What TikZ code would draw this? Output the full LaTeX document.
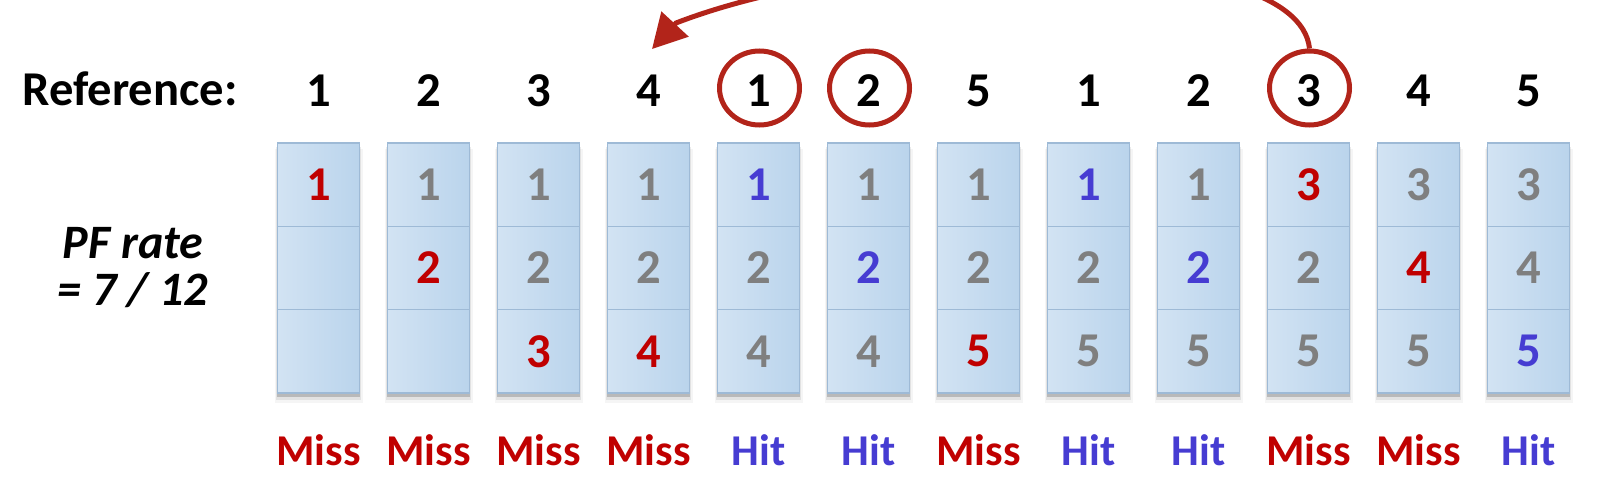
\documentclass[tikz,border=0pt]{standalone}
\usepackage{fontspec}
\setmainfont{Carlito}
\usetikzlibrary{shapes.geometric,arrows.meta}

\definecolor{missred}{RGB}{192,0,0}
\definecolor{hitblue}{RGB}{70,60,210}
\definecolor{oldgray}{RGB}{127,127,127}
\definecolor{markred}{RGB}{178,36,26}
\definecolor{cellborder}{RGB}{158,186,214}
\definecolor{cellA}{RGB}{210,227,243}
\definecolor{cellB}{RGB}{186,212,236}

\tikzset{
  bigtxt/.style={font=\fontsize{24.3}{28}\selectfont\bfseries, inner sep=0pt},
  restxt/.style={font=\fontsize{22}{26}\selectfont\bfseries, inner sep=0pt},
  pftxt/.style={font=\fontsize{24}{28}\selectfont\bfseries\itshape, inner sep=0pt},
  cell/.style={rectangle, minimum width=41pt, minimum height=41.65pt, inner sep=0pt,
    draw=cellborder, line width=0.75pt, left color=cellA, right color=cellB,
    font=\fontsize{24.3}{28}\selectfont\bfseries},
  markring/.style={ellipse, draw=markred, line width=2.5pt, minimum width=40pt, minimum height=37pt, inner sep=0pt},
  shadowA/.style={fill=black, opacity=0.18},
  shadowB/.style={fill=black, opacity=0.08},
  shadowC/.style={fill=black, opacity=0.04}
}

\begin{document}
\begin{tikzpicture}[x=0.5pt,y=-0.5pt]
\useasboundingbox (0,0) rectangle (1612,482);

% left labels
\node[bigtxt, anchor=base] (title) at (130,105) {Reference:};
\node[pftxt, anchor=base] (pf1) at (133,258) {PF rate};
\node[pftxt, anchor=base] (pf2) at (133,305) {= 7 / 12};

% columns
\foreach \i/\r/\ca/\ta/\cb/\tb/\cc/\tc/\rc/\rt in {
  1/1/missred/1/oldgray/{}/oldgray/{}/missred/Miss,
  2/2/oldgray/1/missred/2/oldgray/{}/missred/Miss,
  3/3/oldgray/1/oldgray/2/missred/3/missred/Miss,
  4/4/oldgray/1/oldgray/2/missred/4/missred/Miss,
  5/1/hitblue/1/oldgray/2/oldgray/4/hitblue/Hit,
  6/2/oldgray/1/hitblue/2/oldgray/4/hitblue/Hit,
  7/5/oldgray/1/oldgray/2/missred/5/missred/Miss,
  8/1/hitblue/1/oldgray/2/oldgray/5/hitblue/Hit,
  9/2/oldgray/1/hitblue/2/oldgray/5/hitblue/Hit,
  10/3/missred/3/oldgray/2/oldgray/5/missred/Miss,
  11/4/oldgray/3/missred/4/oldgray/5/missred/Miss,
  12/5/oldgray/3/oldgray/4/hitblue/5/hitblue/Hit}{
  \pgfmathsetmacro{\cx}{318.5+110*(\i-1)}
  % shadow
  \fill[shadowC] (\cx-44,149) rectangle (\cx+44,403);
  \fill[shadowB] (\cx-42.5,147) rectangle (\cx+42.5,400);
  \fill[shadowA] (\cx-41.5,146) rectangle (\cx+41.5,397);
  % cells
  \node[cell, text=\ca] (c\i a) at (\cx,184.65) {\ta};
  \node[cell, text=\cb] (c\i b) at (\cx,267.95) {\tb};
  \node[cell, text=\cc] (c\i c) at (\cx,351.25) {\tc};
  % reference number and result
  \node[bigtxt, anchor=base] (r\i) at (\cx,106) {\r};
  \node[restxt, anchor=base, text=\rc] (res\i) at (\cx,465) {\rt};
}

% circled references
\node[markring] (e5) at (759.5,88) {};
\node[markring] (e6) at (869.5,88) {};
\node[markring] (e10) at (1309.5,88) {};

% arrow
\coordinate (tipbase) at (676,23);
\coordinate (tip) at (652,49);
\begin{scope}
\clip (0,0) rectangle (1612,482);
\draw[markred, line width=2.5pt, -{Triangle[length=17pt,width=18pt]}]
  (e10.north) .. controls (1298,-62) and (880,-56) .. (tipbase) -- (tip);
\end{scope}
\end{tikzpicture}
\end{document}
